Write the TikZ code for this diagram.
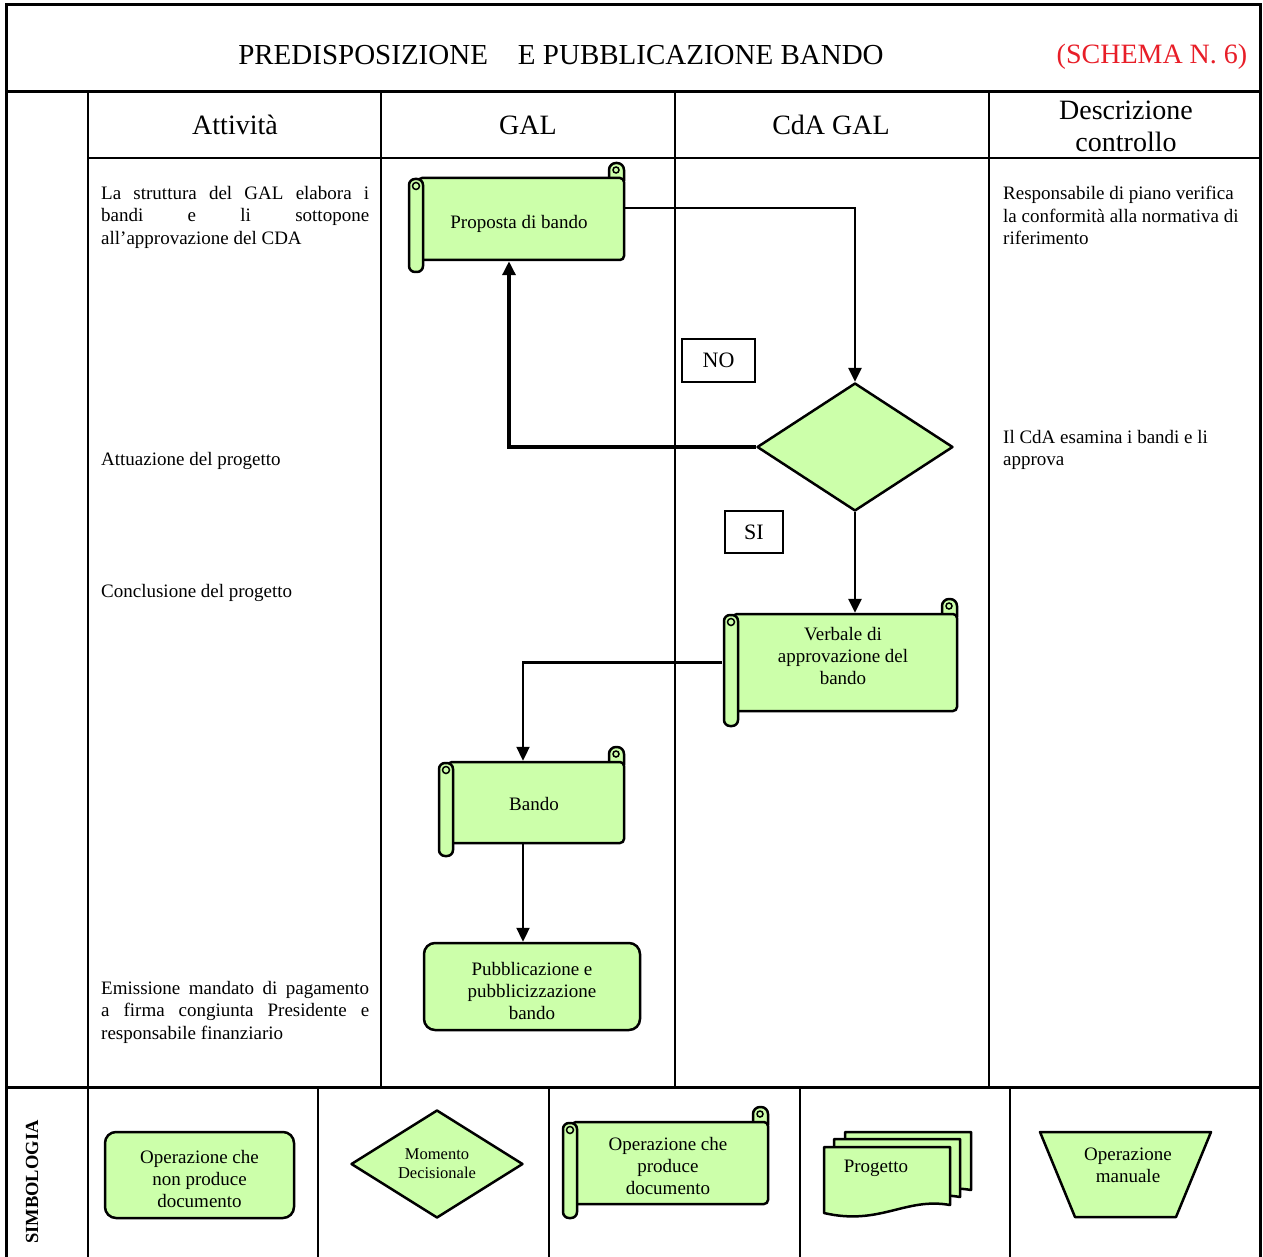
\documentclass[tikz,border=0pt]{standalone}
\usepackage{fontspec}
\setmainfont{Liberation Serif}
\usetikzlibrary{shapes.geometric,arrows.meta,calc}
\definecolor{gfill}{RGB}{204,255,170}
\definecolor{schemared}{RGB}{232,30,40}
\tikzset{
  gridline/.style={line width=1.6pt},
  heavyline/.style={line width=3pt},
  shapeline/.style={draw=black, fill=gfill, line width=2.5pt, line join=round},
  txt/.style={inner sep=0pt, font=\fontsize{19}{22.5}\selectfont},
  hdr/.style={inner sep=0pt, align=center, font=\fontsize{28}{32}\selectfont},
  ttl/.style={inner sep=0pt, font=\fontsize{29}{32}\selectfont},
  scrollbody/.style={shapeline, rounded corners=4pt, inner sep=0pt},
  opbox/.style={shapeline, rounded corners=11pt, inner sep=0pt},
  shapetext/.style={inner sep=0pt, align=center, font=\fontsize{19}{22}\selectfont},
  decision/.style={shapeline, diamond, inner sep=0pt, align=center,
     font=\fontsize{16.5}{19}\selectfont},
  answer/.style={draw=black, line width=2.2pt, inner sep=0pt, font=\fontsize{22}{24}\selectfont},
  conn/.style={line width=2.8pt, -{Triangle[length=14pt,width=13pt]}},
}
% #1 name, #2 cx, #3 cy, #4 width, #5 height, #6 roll extension, #7 text, #8 text y
\newcommand\scrollnode[8]{%
  \draw[shapeline, rounded corners=7pt] ({#2+#4/2-15},{#3-#5/2+3}) -- ({#2+#4/2-15},{#3-#5/2-15}) -- ({#2+#4/2},{#3-#5/2-15}) -- ({#2+#4/2},{#3-#5/2+3});
  \draw[line width=1.5pt] ({#2+#4/2-8},{#3-#5/2-8}) circle (3pt);
  \node[scrollbody, minimum width=#4pt, minimum height=#5pt] (#1) at (#2,#3) {};
  \draw[shapeline, rounded corners=6pt] ({#2-#4/2-9},{#3-#5/2+1}) rectangle ({#2-#4/2+5},{#3+#5/2+#6});
  \draw[line width=1.5pt] ({#2-#4/2-2},{#3-#5/2+8}) circle (3.5pt);
  \node[shapetext] (#1-t) at ({#2-2},#8) {#7};
}
\begin{document}
\begin{tikzpicture}[x=1pt,y=-1pt]
\useasboundingbox (0,0) rectangle (1263,1257);
\fill[white] (0,0) rectangle (1263,1257);

% ---- table grid
\draw[gridline] (88,158) -- (1260,158);
\draw[gridline] (88,92) -- (88,1257);
\draw[gridline] (381,92) -- (381,1087);
\draw[gridline] (675,92) -- (675,1087);
\draw[gridline] (989,92) -- (989,1087);
\draw[gridline] (318,1087) -- (318,1257);
\draw[gridline] (549,1087) -- (549,1257);
\draw[gridline] (800,1087) -- (800,1257);
\draw[gridline] (1010,1087) -- (1010,1257);
\draw[heavyline] (6,92) -- (1260,92);
\draw[heavyline] (6,1087) -- (1260,1087);
\draw[heavyline] (6,1257) -- (6,5) -- (1260,5) -- (1260,1257);

% ---- title and headers
\node[ttl] (title) at (561,55) {PREDISPOSIZIONE\hspace{30pt}E PUBBLICAZIONE BANDO};
\node[ttl, font=\fontsize{28}{32}\selectfont, text=schemared] (schema) at (1152,57) {(SCHEMA N. 6)};
\node[hdr] (hatt) at (235,125) {Attività};
\node[hdr] (hgal) at (528,125) {GAL};
\node[hdr] (hcda) at (831,125) {CdA GAL};
\node[hdr] (hdesc) at (1126,126) {Descrizione\\controllo};

% ---- activity texts
\node[txt, text width=268pt, align=justify, anchor=north west] (t1) at (101,186)
  {La struttura del GAL elabora i\linebreak bandi e li sottopone\linebreak all’approvazione del CDA};
\node[txt, anchor=base west] (t2) at (101,465) {Attuazione del progetto};
\node[txt, anchor=base west] (t3) at (101,597) {Conclusione del progetto};
\node[txt, text width=268pt, align=justify, anchor=north west] (t4) at (101,981)
  {Emissione mandato di pagamento\linebreak a firma congiunta Presidente e\linebreak responsabile finanziario};

% ---- control texts
\node[txt, align=left, anchor=north west] (d1) at (1003,186)
  {Responsabile di piano verifica\\la conformità alla normativa di\\riferimento};
\node[txt, align=left, anchor=north west] (d2) at (1003,430)
  {Il CdA esamina i bandi e li\\approva};

% ---- flow
\scrollnode{prop}{521}{219}{206}{82}{12}{Proposta di bando}{224}
\node[decision, minimum width=196pt, minimum height=128pt] (dec) at (855,447) {};
\scrollnode{verb}{845}{662.5}{224}{97}{15}{Verbale di\\approvazione del\\bando}{656}
\scrollnode{bando}{536}{802.5}{176}{81}{13}{Bando}{804}
\node[opbox, minimum width=216pt, minimum height=87pt] (pub) at (532,986.5) {};
\node[shapetext] (pub-t) at (532,990.5) {Pubblicazione e\\pubblicizzazione\\bando};
\node[answer, minimum width=73pt, minimum height=43pt] (no) at (718.5,360.5) {NO};
\node[answer, minimum width=58pt, minimum height=42pt] (si) at (754,532) {SI};

\draw[conn] ([yshift=11pt]prop.east) -| (dec.north);
\draw[conn, line width=3.4pt] (dec.west) -| ([xshift=-12pt]prop.south);
\draw[conn] (dec.south) -- (dec.south |- verb.north);
\draw[conn, line width=2.3pt] ([xshift=-10pt]verb.west) -| ([xshift=-13pt]bando.north);
\coordinate (bs) at ([xshift=-13pt]bando.south);
\draw[conn, line width=2.3pt] (bs) -- (bs |- pub.north);

% ---- legend
\node[rotate=90, inner sep=0pt, font=\bfseries\fontsize{18.5}{20}\selectfont] (simb) at (32,1182) {SIMBOLOGIA};
\node[opbox, minimum width=189pt, minimum height=86pt] (lrect) at (199.5,1175) {};
\node[shapetext] (lrect-t) at (199.5,1179) {Operazione che\\non produce\\documento};
\node[decision, minimum width=172pt, minimum height=108pt] (ldec) at (437,1164)
  {Momento\\Decisionale};
\scrollnode{lscroll}{670}{1163}{196}{82}{14}{Operazione che\\produce\\documento}{1166}
\foreach \dx/\dy in {21/-15, 10/-8, 0/0}{
  \begin{scope}[shift={(\dx,\dy)}]
    \draw[shapeline] (824,1147) -- (950,1147) -- (950,1205)
      .. controls (905,1197) and (880,1226) .. (824,1213) -- cycle;
  \end{scope}
}
\node[shapetext] (lproj) at (876,1168) {Progetto};
\draw[shapeline] (1040,1132) -- (1211,1132) -- (1176,1217) -- (1075,1217) -- cycle;
\node[shapetext] (lman) at (1128,1165) {Operazione\\manuale};
\end{tikzpicture}
\end{document}
